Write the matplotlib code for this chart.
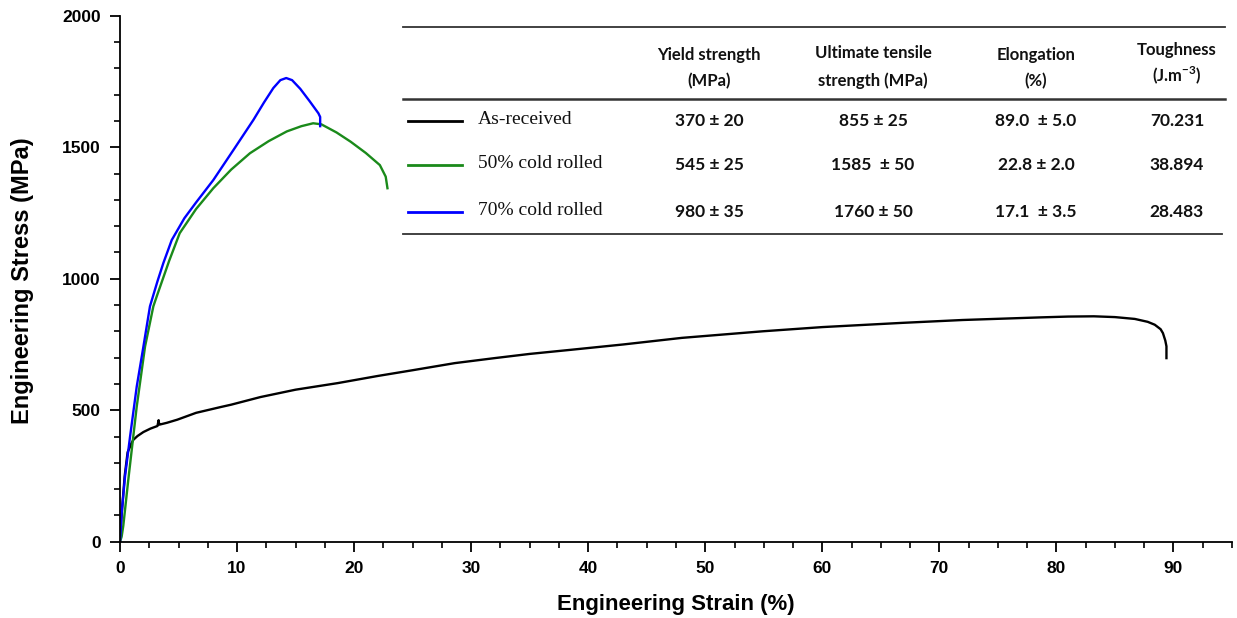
import matplotlib
matplotlib.use("Agg")
import matplotlib.pyplot as plt
from matplotlib.lines import Line2D
from matplotlib.ticker import MultipleLocator

plt.rcParams["mathtext.fontset"] = "custom"
plt.rcParams["mathtext.rm"] = "Lato:bold"
plt.rcParams["mathtext.bf"] = "Lato:bold"

# stress-strain curves
as_received_strain = [0, 0.15, 0.4, 0.65, 0.85, 0.95, 1.15, 1.5, 2.0, 2.6, 3.2, 3.3, 3.35, 3.45,
                      4.0, 4.9, 6.5, 8.6, 9.5, 12, 15, 18.6, 22, 25, 28.6, 32, 35, 38.6, 43, 48,
                      54.9, 60, 66.8, 72, 78.7, 81, 83.2, 85, 86.7, 87.8, 88.4, 88.9, 89.1, 89.3,
                      89.4, 89.4]
as_received_stress = [0, 110, 250, 340, 360, 372, 388, 402, 417, 430, 440, 462, 445, 446,
                      452, 464, 490, 512, 521, 550, 578, 603, 630, 652, 679, 698, 714, 730, 750, 775,
                      800, 816, 832, 843, 853, 856, 857, 854, 847, 836, 825, 808, 793, 765,
                      743, 698]

cr50_strain = [0, 0.14, 0.28, 0.71, 1.43, 2.14, 2.85, 3.14, 4.2, 5.1, 6.5, 7.97, 9.5, 11.1,
               12.7, 14.25, 15.5, 16.5, 17.2, 18.5, 19.7, 21.0, 22.2, 22.7, 22.85]
cr50_stress = [0, 19, 60, 236, 514, 742, 895, 933, 1068, 1173, 1265, 1344, 1415, 1477,
               1523, 1560, 1580, 1591, 1587, 1556, 1521, 1478, 1432, 1388, 1344]

cr70_strain = [0, 0.14, 0.43, 0.86, 1.43, 2.0, 2.56, 3.2, 3.7, 4.42, 5.5, 6.5, 7.97, 9.7,
               11.4, 12.3, 13.1, 13.7, 14.2, 14.7, 15.4, 16.2, 16.95, 17.1, 17.1]
cr70_stress = [0, 107, 248, 400, 590, 742, 895, 990, 1059, 1147, 1230, 1290, 1375, 1490,
               1604, 1670, 1725, 1755, 1763, 1755, 1722, 1675, 1629, 1615, 1580]

# inset table
row_names = ["As-received", "50% cold rolled", "70% cold rolled"]
row_colors = ["black", "#1a8a1a", "#0000ff"]
col_headers = [("Yield strength", "(MPa)"), ("Ultimate tensile", "strength (MPa)"),
               ("Elongation", "(%)"), ("Toughness", r"(J.m$^{-3}$)")]
table_values = [["370 ± 20", "855 ± 25", "89.0  ± 5.0", "70.231"],
                ["545 ± 25", "1585  ± 50", "22.8 ± 2.0", "38.894"],
                ["980 ± 35", "1760 ± 50", "17.1  ± 3.5", "28.483"]]

W, H = 1237, 618
fig = plt.figure(figsize=(W / 100, H / 100), dpi=100)
ax = fig.add_axes([120 / W, 1 - 541.7 / H, (1232 - 120) / W, (541.7 - 15.7) / H])

ax.plot(as_received_strain, as_received_stress, color=row_colors[0], lw=1.7)
ax.plot(cr50_strain, cr50_stress, color=row_colors[1], lw=1.7)
ax.plot(cr70_strain, cr70_stress, color=row_colors[2], lw=1.7)

ax.set_xlim(0, 95)
ax.set_ylim(0, 2000)
ax.xaxis.set_minor_locator(MultipleLocator(2.5))
ax.yaxis.set_major_locator(MultipleLocator(500))
ax.yaxis.set_minor_locator(MultipleLocator(100))
ax.set_xticks(range(0, 91, 10))
for s in ["top", "right"]:
    ax.spines[s].set_visible(False)
for s in ["left", "bottom"]:
    ax.spines[s].set_linewidth(1.3)
ax.tick_params(which="major", length=7, width=1.3, labelsize=12.5, pad=7)
ax.tick_params(which="minor", length=4, width=1.2)
for lab in ax.get_xticklabels() + ax.get_yticklabels():
    lab.set_fontweight("bold")
    lab.set_family("Liberation Sans")

ax.set_xlabel("Engineering Strain (%)", fontsize=16, fontweight="bold", family="Liberation Sans")
ax.set_ylabel("Engineering Stress (MPa)", fontsize=17, fontweight="bold", family="Liberation Sans")
ax.xaxis.set_label_coords((676 - 120) / (1232 - 120), -(594 - 541.7) / (541.7 - 15.7))
ax.yaxis.set_label_coords(-(120 - 34) / (1232 - 120), (541.7 - 281) / (541.7 - 15.7))


def px(x, y):
    return x / W, 1 - y / H


def hline(x0, x1, y, color="#333333", lw=1.3):
    (a, b), (c, d) = px(x0, y), px(x1, y)
    fig.add_artist(Line2D([a, c], [b, d], color=color, lw=lw))


# table rules
hline(403, 1225, 27)
hline(403, 1225, 99, lw=1.8)
hline(403, 1222, 234)

col_x = [709, 873, 1036, 1177]
head_y = [(55, 81), (53, 81), (55, 81), (50, 75)]
for cx, (l1, l2), (y1, y2) in zip(col_x, col_headers, head_y):
    fig.text(*px(cx, y1), l1, ha="center", va="center", fontsize=12, fontweight="bold",
             family="Lato", color="#111111")
    fig.text(*px(cx, y2), l2, ha="center", va="center", fontsize=12, fontweight="bold",
             family="Lato", color="#111111")

row_y = [121, 165, 212]
for name, color, vals, ry in zip(row_names, row_colors, table_values, row_y):
    hline(408, 462, ry, color=color, lw=2)
    fig.text(*px(478, ry - 2), name, ha="left", va="center", fontsize=14,
             family="Liberation Serif", color="#111111")
    for cx, v in zip(col_x, vals):
        fig.text(*px(cx, ry), v, ha="center", va="center", fontsize=12.5, fontweight="bold",
                 family="Lato", color="#111111")

fig.savefig("out.png", dpi=100)
